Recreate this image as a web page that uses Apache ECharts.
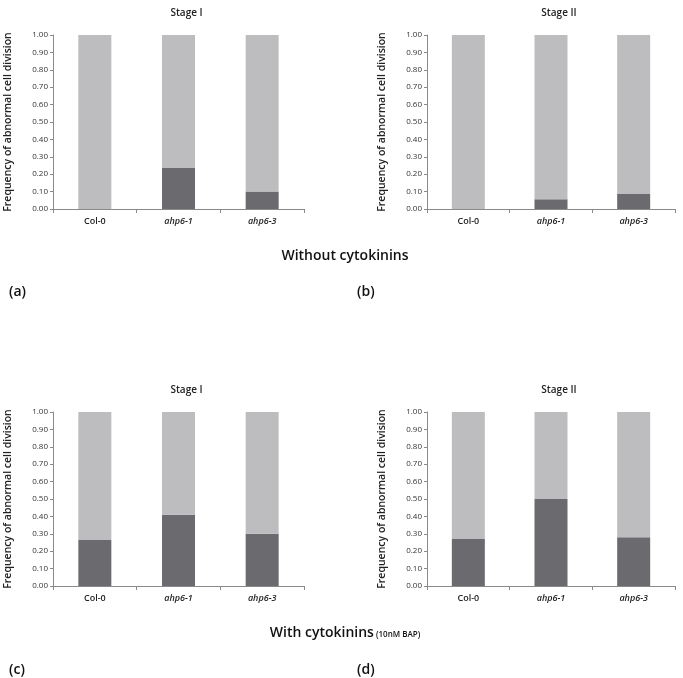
<!DOCTYPE html>
<html><head><meta charset="utf-8">
<script src="https://cdn.jsdelivr.net/npm/echarts@6/dist/echarts.min.js"></script>
<style>html,body{margin:0;padding:0;background:#fff}#c{width:683px;height:678px}</style>
</head><body><div id="c"></div>
<script>
const categories = ['Col-0', 'ahp6-1', 'ahp6-3'];
const yTicks = [0, 0.1, 0.2, 0.3, 0.4, 0.5, 0.6, 0.7, 0.8, 0.9, 1.0];
// abnormal fraction (dark) and remainder (light) per panel
const a_abnormal = [0.0, 0.235, 0.10];
const a_normal   = [1.0, 0.765, 0.90];
const b_abnormal = [0.0, 0.056, 0.086];
const b_normal   = [1.0, 0.944, 0.914];
const c_abnormal = [0.264, 0.41, 0.30];
const c_normal   = [0.736, 0.59, 0.70];
const d_abnormal = [0.27, 0.50, 0.28];
const d_normal   = [0.73, 0.50, 0.72];
const panelTitles = ['Stage I', 'Stage II', 'Stage I', 'Stage II'];
const yAxisTitle = 'Frequency of abnormal cell division';

const FONT = '"Open Sans", "Noto Sans", sans-serif';
const DARK = '#6b6b6f', LIGHT = '#bdbdbf', AXIS = '#8a8a8a';
const panels = [
  {left: 53, top: 35, width: 251, height: 174, ab: a_abnormal, no: a_normal},
  {left: 427, top: 35, width: 248, height: 174, ab: b_abnormal, no: b_normal},
  {left: 53, top: 412, width: 251, height: 174, ab: c_abnormal, no: c_normal},
  {left: 427, top: 412, width: 248, height: 174, ab: d_abnormal, no: d_normal}
];
const grid = [], xAxis = [], yAxis = [], series = [], title = [];
panels.forEach((p, i) => {
  grid.push({left: p.left, top: p.top, width: p.width, height: p.height});
  xAxis.push({
    type: 'category', gridIndex: i, data: categories,
    axisLine: {lineStyle: {color: AXIS, width: 1}},
    axisTick: {show: true, length: 4, lineStyle: {color: AXIS}},
    axisLabel: {
      margin: 8, fontFamily: FONT, fontSize: 9, color: '#222', fontWeight: 600,
      formatter: v => v === 'Col-0' ? '{n|' + v + '}' : '{i|' + v + '}',
      rich: {
        n: {fontFamily: FONT, fontSize: 9, fontWeight: 600, color: '#222'},
        i: {fontFamily: FONT, fontSize: 9, fontWeight: 600, fontStyle: 'italic', color: '#222'}
      }
    }
  });
  yAxis.push({
    type: 'value', gridIndex: i, min: 0, max: 1, interval: 0.1,
    name: yAxisTitle, nameLocation: 'middle', nameGap: 39, nameRotate: 90,
    nameTextStyle: {fontFamily: FONT, fontSize: 10.5, fontWeight: 600, color: '#222'},
    axisLine: {show: true, lineStyle: {color: AXIS, width: 1}},
    axisTick: {show: true, length: 3, lineStyle: {color: AXIS}},
    splitLine: {show: false},
    axisLabel: {fontFamily: FONT, fontSize: 8, color: '#333', margin: 5,
      formatter: v => v.toFixed(2)}
  });
  series.push({type: 'bar', xAxisIndex: i, yAxisIndex: i, stack: 's' + i, data: p.ab,
    barWidth: 33, itemStyle: {color: DARK}});
  series.push({type: 'bar', xAxisIndex: i, yAxisIndex: i, stack: 's' + i, data: p.no,
    barWidth: 33, itemStyle: {color: LIGHT}});
  title.push({text: panelTitles[i], left: p.left + p.width / 2 + 3, top: p.top - 32,
    textAlign: 'center',
    textStyle: {fontFamily: FONT, fontSize: 10, fontWeight: 600, color: '#222'}});
});
title.push({text: 'Without cytokinins', left: 340, top: 244, textAlign: 'center',
  textStyle: {fontFamily: FONT, fontSize: 14, fontWeight: 600, color: '#111'}});
title.push({text: '{a|With cytokinins}{b| (10nM BAP)}', left: 340, top: 621, textAlign: 'center',
  textStyle: {rich: {a: {fontFamily: FONT, fontSize: 14, fontWeight: 600, color: '#111'},
    b: {fontFamily: FONT, fontSize: 8, fontWeight: 600, color: '#111', padding: [4, 0, 0, 0]}}}});
[['(a)', 4, 280], ['(b)', 352, 280], ['(c)', 4, 658], ['(d)', 352, 658]].forEach(t => {
  title.push({text: t[0], left: t[1], top: t[2],
    textStyle: {fontFamily: FONT, fontSize: 14, fontWeight: 600, color: '#111'}});
});
const chart = echarts.init(document.getElementById('c'), null, {renderer: 'canvas'});
chart.setOption({animation: false, title, grid, xAxis, yAxis, series});
</script></body></html>
